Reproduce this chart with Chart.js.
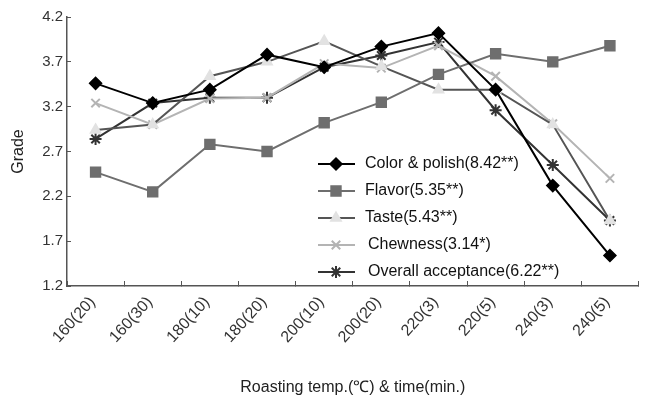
<!DOCTYPE html>
<html lang="en">
  <head>
    <meta charset="UTF-8" />
    <title>Grade by roasting condition</title>
    <script src="https://cdn.jsdelivr.net/npm/chart.js@4.4.1/dist/chart.umd.min.js"></script>
    <style>
      html, body { margin: 0; padding: 0; background: #fff; }
      #wrap { width: 647px; height: 397px; }
    </style>
  </head>
  <body>
    <div id="wrap"><canvas id="chart" width="647" height="397"></canvas></div>
    <script>
    // values
    const labels = ['160(20)', '160(30)', '180(10)', '180(20)', '200(10)', '200(20)', '220(3)', '220(5)', '240(3)', '240(5)'];
    const colorPolish = [3.46, 3.24, 3.39, 3.78, 3.64, 3.87, 4.02, 3.39, 2.32, 1.54];
    const flavor = [2.47, 2.25, 2.78, 2.70, 3.02, 3.25, 3.56, 3.79, 3.70, 3.88];
    const taste = [2.94, 3.00, 3.54, 3.70, 3.93, 3.65, 3.39, 3.39, 3.00, 1.93];
    const chewness = [3.24, 3.00, 3.29, 3.30, 3.68, 3.63, 3.88, 3.54, 3.01, 2.40];
    const overall = [2.84, 3.24, 3.30, 3.30, 3.64, 3.77, 3.92, 3.16, 2.55, 1.93];
    const seriesNames = ['Color & polish(8.42**)', 'Flavor(5.35**)', 'Taste(5.43**)', 'Chewness(3.14*)', 'Overall acceptance(6.22**)'];

    const FONT = "'Liberation Sans', Arial, sans-serif";

    // legend sits inside the plot area, drawn by hand
    const insideLegend = {
      id: 'insideLegend',
      afterDraw(chart) {
        const ctx = chart.ctx;
        ctx.save();
        chart.data.datasets.forEach((ds, i) => {
          const y = 164 + i * 27;
          ctx.strokeStyle = ds.borderColor;
          ctx.lineWidth = ds.borderWidth;
          ctx.beginPath();
          ctx.moveTo(318, y);
          ctx.lineTo(355, y);
          ctx.stroke();
          const opts = {
            pointStyle: ds.pointStyle,
            radius: ds.pointRadius,
            rotation: 0,
            borderWidth: ds.pointBorderWidth
          };
          ctx.fillStyle = ds.pointBackgroundColor;
          ctx.strokeStyle = ds.pointBorderColor;
          ctx.lineWidth = ds.pointBorderWidth;
          if (Chart.helpers && Chart.helpers.drawPoint) {
            Chart.helpers.drawPoint(ctx, opts, 336, y);
          }
          ctx.fillStyle = '#111';
          ctx.font = '16px ' + FONT;
          ctx.textBaseline = 'middle';
          ctx.textAlign = 'left';
          ctx.fillText(ds.label, i >= 3 ? 368 : 365, y);
        });
        ctx.restore();
      }
    };

    function line(label, data, lineColor, fill, border, style, r) {
      return {
        label: label,
        data: data,
        borderColor: lineColor,
        borderWidth: 2,
        pointStyle: style,
        pointRadius: r,
        pointHoverRadius: r,
        pointBackgroundColor: fill,
        pointBorderColor: border,
        pointBorderWidth: style === 'star' || style === 'crossRot' ? 2 : 1.5,
        tension: 0,
        fill: false
      };
    }

    const ctx = document.getElementById('chart').getContext('2d');
    const myChart = new Chart(ctx, {
      type: 'line',
      data: {
        labels: labels,
        datasets: [
          line(seriesNames[0], colorPolish, '#000000', '#000000', '#000000', 'rectRot', 6),
          line(seriesNames[1], flavor, '#6e6e6e', '#6e6e6e', '#6e6e6e', 'rect', 7),
          line(seriesNames[2], taste, '#555555', '#e2e2e2', '#e2e2e2', 'triangle', 6),
          line(seriesNames[3], chewness, '#b4b4b4', '#b4b4b4', '#b4b4b4', 'crossRot', 6),
          line(seriesNames[4], overall, '#333333', '#333333', '#333333', 'star', 6)
        ]
      },
      options: {
        responsive: false,
        animation: false,
        layout: { padding: { top: 16, right: 7, left: 9, bottom: 0 } },
        plugins: {
          legend: { display: false },
          tooltip: { enabled: false }
        },
        scales: {
          x: {
            offset: true,
            grid: { offset: true, drawOnChartArea: false, tickLength: -5, color: '#555', tickColor: '#555' },
            border: { color: '#555', width: 1.5 },
            ticks: { maxRotation: 48, minRotation: 48, padding: 12, labelOffset: -3, color: '#333', font: { family: FONT, size: 16 } },
            title: { display: true, text: 'Roasting temp.(℃) & time(min.)', color: '#222', padding: 0, font: { family: FONT, size: 16 } },
            afterFit(scale) { scale.height = 111; }
          },
          y: {
            min: 1.2,
            max: 4.2,
            ticks: { stepSize: 0.5, padding: 8, color: '#333', font: { family: FONT, size: 15 },
              callback: v => Number(v).toFixed(1) },
            grid: { drawOnChartArea: false, tickLength: -4, tickColor: '#555' },
            border: { color: '#555', width: 1.5 },
            title: { display: true, text: 'Grade', color: '#222', padding: 0, font: { family: FONT, size: 16 } },
            afterFit(scale) { scale.width = 58; }
          }
        }
      },
      plugins: [insideLegend]
    });
    </script>
  </body>
</html>
